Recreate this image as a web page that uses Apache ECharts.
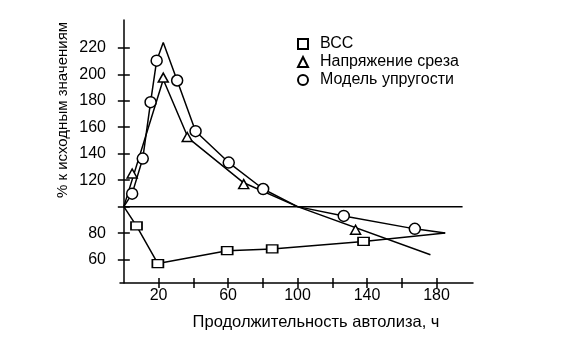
<!DOCTYPE html>
<html><head><meta charset="utf-8">
<script src="https://cdn.jsdelivr.net/npm/echarts@6/dist/echarts.min.js"></script>
<style>html,body{margin:0;padding:0;background:#fff}#c{width:571px;height:343px}</style>
</head><body><div id="c"></div>
<script>
// ---- data ----
const xTickValues = [20, 40, 60, 80, 100, 120, 140, 160, 180];
const xLabelValues = [20, 60, 100, 140, 180];
const yTickValues = [60, 80, 100, 120, 140, 160, 180, 200, 220];
const yLabelValues = [60, 80, 120, 140, 160, 180, 200, 220];

const refLineX = [0, 195];
const refLineY = [100, 100];

// ВСС (squares)
const vssX = [7.3, 19.6, 59.5, 85.4, 138];
const vssY = [85.5, 57, 66.7, 68, 73.7];
const vssLineX = [0, 7.3, 19.6, 59.5, 85.4, 138, 185];
const vssLineY = [100, 85.5, 57, 66.7, 68, 73.7, 80];

// Напряжение среза (triangles)
const shearX = [4.8, 22.7, 36.5, 69, 133.4];
const shearY = [125, 197.5, 152.6, 117, 82.5];
const shearLineX = [0, 22.7, 37, 69, 100, 176.5];
const shearLineY = [100, 196, 152, 118, 100, 63.7];

// Модель упругости (circles)
const elastX = [4.8, 10.9, 15.4, 18.9, 30.7, 41.3, 60.4, 80.2, 126.6, 167.5];
const elastY = [109.8, 136.3, 178.9, 210.3, 195.3, 157, 133.3, 113.3, 93, 83.2];
const elastLineX = [0, 4.8, 10.9, 15.4, 18.9, 22.7, 30.7, 41.3, 60.4, 80.2, 100, 126.6, 167.5, 185];
const elastLineY = [100, 109.8, 136.3, 178.9, 210.3, 224, 195.3, 157, 133.3, 113.3, 100, 93, 83.2, 80];

const names = ['ВСС', 'Напряжение среза', 'Модель упругости'];
const xName = 'Продолжительность автолиза, ч';
const yName = '% к исходным значениям';

// ---- build ----
const zip = (a, b) => a.map((v, i) => [v, b[i]]);
const FONT = 'Liberation Sans, Arial, sans-serif';
const BLACK = '#000';
const X_MIN = -2.2, X_MAX = 201, Y_MIN = 42.3, Y_MAX = 241;
const gridBox = { left: 120, right: 98, top: 20, bottom: 60 };

const lineSeries = (data) => ({
  type: 'line', data, symbol: 'none', xAxisIndex: 0, yAxisIndex: 0,
  lineStyle: { color: BLACK, width: 1.5 }, z: 2, silent: true, animation: false
});
const ptSeries = (name, data, symbol, size) => ({
  type: 'scatter', name, data, symbol, symbolSize: size, xAxisIndex: 0, yAxisIndex: 0,
  itemStyle: { color: '#fff', borderColor: BLACK, borderWidth: 1.5, opacity: 1 }, z: 5, animation: false
});

const chart = echarts.init(document.getElementById('c'), null, { renderer: 'canvas' });
chart.setOption({
  animation: false,
  backgroundColor: '#fff',
  textStyle: { fontFamily: FONT },
  grid: [Object.assign({}, gridBox), Object.assign({}, gridBox)],
  xAxis: [
    { type: 'value', gridIndex: 0, min: X_MIN, max: X_MAX, position: 'bottom',
      axisLine: { show: true, lineStyle: { color: BLACK, width: 1.5 } },
      axisTick: { show: true, inside: false, length: 5, customValues: xTickValues, lineStyle: { color: BLACK, width: 1.5 } },
      axisLabel: { show: true, customValues: xLabelValues, color: BLACK, fontSize: 16, fontFamily: FONT, margin: 5 },
      splitLine: { show: false } },
    { type: 'value', gridIndex: 1, min: X_MIN, max: X_MAX, position: 'bottom',
      axisLine: { show: false },
      axisTick: { show: true, inside: true, length: 5, customValues: xTickValues, lineStyle: { color: BLACK, width: 1.5 } },
      axisLabel: { show: false }, splitLine: { show: false } }
  ],
  yAxis: [
    { type: 'value', gridIndex: 0, min: Y_MIN, max: Y_MAX, position: 'left',
      axisLine: { show: true, lineStyle: { color: BLACK, width: 1.5 } },
      axisTick: { show: true, inside: false, length: 6, customValues: yTickValues, lineStyle: { color: BLACK, width: 1.5 } },
      axisLabel: { show: true, customValues: yLabelValues, color: BLACK, fontSize: 16, fontFamily: FONT, margin: 14 },
      splitLine: { show: false } },
    { type: 'value', gridIndex: 1, min: Y_MIN, max: Y_MAX, position: 'left',
      axisLine: { show: false },
      axisTick: { show: true, inside: true, length: 6, customValues: yTickValues, lineStyle: { color: BLACK, width: 1.5 } },
      axisLabel: { show: false }, splitLine: { show: false } }
  ],
  legend: {
    data: names, orient: 'vertical', left: 292, top: 31, itemWidth: 10, itemHeight: 10, itemGap: 2,
    textStyle: { color: BLACK, fontSize: 16, fontFamily: FONT, lineHeight: 14, padding: [0, 0, 0, 7] },
    selectedMode: false
  },
  graphic: [
    { type: 'text', x: 316, y: 322,
      style: { text: xName, fill: BLACK, font: '16.5px ' + FONT, align: 'center', verticalAlign: 'middle' } },
    { type: 'text', x: 63, y: 110, rotation: Math.PI / 2,
      style: { text: yName, fill: BLACK, font: '15px ' + FONT, align: 'center', verticalAlign: 'middle' } }
  ],
  series: [
    lineSeries(zip(refLineX, refLineY)),
    lineSeries(zip(vssLineX, vssLineY)),
    lineSeries(zip(shearLineX, shearLineY)),
    lineSeries(zip(elastLineX, elastLineY)),
    ptSeries(names[0], zip(vssX, vssY), 'rect', [11, 8]),
    ptSeries(names[1], zip(shearX, shearY), 'triangle', [10, 9]),
    ptSeries(names[2], zip(elastX, elastY), 'circle', 11),
    { type: 'scatter', data: [], xAxisIndex: 1, yAxisIndex: 1 }
  ]
});
</script></body></html>
